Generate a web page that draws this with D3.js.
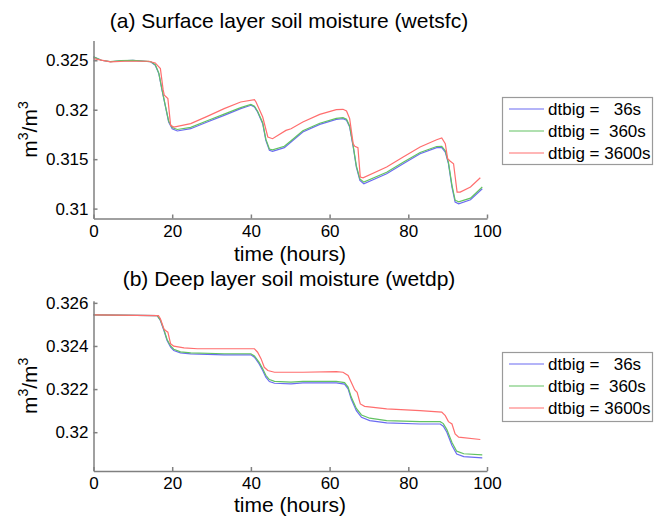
<!DOCTYPE html>
<html>
<head>
<meta charset="utf-8">
<script src="https://cdn.jsdelivr.net/npm/d3@7"></script>
<style>
  body { margin: 0; background: #fff; }
  text { font-family: "Liberation Sans", Arial, sans-serif; fill: #000; }
</style>
</head>
<body>
<div class="chart"></div>
<script>
// ---- data ----
var seriesNames = ["dtbig =   36s", "dtbig =  360s", "dtbig = 3600s"];
var seriesColors = ["#6b6bf2", "#62c262", "#ff6e6e"];

// (a) surface layer, wetsfc
var sfcHoursBG = [0, 2, 4.3, 7, 10, 14.5, 15.7, 16.6, 17.4, 18.3, 19.1, 20, 21.3, 24.7, 28.9, 33.2, 37.4, 40, 40.9, 41.7,
  43, 43.8, 44.7, 45.5, 48.5, 50.2, 53.2, 57.5, 61.7, 63.4, 64.3, 65.1, 66, 66.8, 67.7, 68.7, 74.5, 78.7, 83, 87.2,
  88.5, 89.4, 90.2, 91.1, 91.9, 92.8, 95.8, 98.8];
var sfcBlue = [0.32534, 0.3250, 0.32485, 0.32495, 0.3250, 0.32485, 0.3245, 0.32365, 0.3220, 0.32028, 0.31876, 0.31808,
  0.31785, 0.31808, 0.31876, 0.31943, 0.32011, 0.32045, 0.32028, 0.31977, 0.31859, 0.3169, 0.31589, 0.31579, 0.31616,
  0.31673, 0.31775, 0.31852, 0.31903, 0.3191, 0.31893, 0.31825, 0.31623, 0.3142, 0.31285, 0.31252, 0.31353, 0.31454,
  0.31555, 0.31616, 0.31616, 0.31572, 0.31454, 0.31218, 0.31066, 0.31049, 0.3109, 0.31201];
var sfcGreen = [0.32534, 0.3250, 0.32487, 0.32497, 0.3250, 0.32487, 0.32455, 0.3237, 0.32205, 0.32035, 0.31885, 0.3182,
  0.318, 0.31822, 0.31889, 0.31955, 0.32021, 0.32053, 0.32036, 0.31985, 0.31868, 0.31702, 0.31603, 0.31594, 0.3163,
  0.31686, 0.31787, 0.31863, 0.31913, 0.3192, 0.31903, 0.31835, 0.31635, 0.31433, 0.313, 0.31268, 0.31368, 0.31468,
  0.31568, 0.31628, 0.3163, 0.31586, 0.31468, 0.31235, 0.31085, 0.31068, 0.31106, 0.31218];
var sfcHoursR = [0, 4.3, 8, 14, 15.7, 17, 17.7, 18, 18.9, 19.6, 20.4, 24.7, 28.9, 33.2, 37.4, 40.9, 41.3, 43, 44.3, 45.5,
  48.9, 50.2, 53.2, 57.5, 61.7, 63.4, 64.3, 65.1, 66, 66.4, 67.2, 67.8, 68.5, 74.5, 78.7, 83, 87.2, 88.5, 89.4, 90,
  90.6, 91.5, 92.4, 93.2, 95.8, 98.3];
var sfcRed = [0.32517, 0.32483, 0.3249, 0.3249, 0.32473, 0.32416, 0.3220, 0.32146, 0.32112, 0.31842, 0.31825, 0.31859,
  0.31933, 0.32011, 0.32078, 0.32102, 0.32078, 0.31926, 0.31724, 0.31707, 0.31791, 0.31808, 0.31876, 0.31953, 0.32001,
  0.32004, 0.31987, 0.3191, 0.31656, 0.3163, 0.31616, 0.31319, 0.31312, 0.3142, 0.31522, 0.31623, 0.31697, 0.31714,
  0.31656, 0.31505, 0.31481, 0.31454, 0.31167, 0.31167, 0.31218, 0.31312];

// (b) deep layer, wetdp
var dpHoursBG = [0, 16.2, 17, 17.9, 18.7, 19.6, 20.4, 22.1, 24.7, 33.2, 40, 40.9, 42.1, 43, 43.8, 44.7, 46, 50.2, 53.2,
  61.7, 63.8, 64.7, 65.5, 66.8, 68.1, 70.2, 74.5, 83, 88.1, 88.9, 89.8, 91.1, 92.3, 94.1, 98.8];
var dpBlue = [0.32544, 0.32541, 0.32518, 0.32472, 0.32425, 0.32394, 0.32379, 0.32368, 0.32363, 0.32359, 0.32359, 0.32348,
  0.32317, 0.32286, 0.32255, 0.32235, 0.32227, 0.32224, 0.32229, 0.32229, 0.32223, 0.32201, 0.32154, 0.321, 0.32069,
  0.32054, 0.32043, 0.32038, 0.32038, 0.32028, 0.32, 0.31938, 0.31899, 0.31887, 0.31881];
var dpGreen = [0.32544, 0.32541, 0.3252, 0.32476, 0.3243, 0.324, 0.32385, 0.32373, 0.32368, 0.32364, 0.32364, 0.32354,
  0.32324, 0.32294, 0.32264, 0.32244, 0.32236, 0.32232, 0.32236, 0.32236, 0.3223, 0.32209, 0.32163, 0.3211, 0.3208,
  0.32065, 0.32054, 0.32049, 0.32049, 0.3204, 0.32012, 0.31952, 0.31912, 0.319, 0.31895];
var dpHoursR = [0, 16.5, 17, 17.9, 18.3, 18.9, 19.6, 20.4, 23, 26.4, 40.9, 41.7, 42.6, 43.4, 44.3, 46, 53.2, 61.7, 63.4,
  64.7, 65.5, 66.4, 67, 67.8, 68.9, 74.5, 83, 88.5, 89.4, 90.2, 91.1, 91.9, 92.8, 98.3];
var dpRed = [0.32544, 0.32541, 0.32526, 0.32479, 0.32472, 0.32464, 0.3241, 0.32399, 0.32391, 0.32387, 0.32387, 0.32371,
  0.3234, 0.32301, 0.32286, 0.32278, 0.32278, 0.32281, 0.32278, 0.32263, 0.32232, 0.32196, 0.32185, 0.32131, 0.3212,
  0.32108, 0.321, 0.32093, 0.32077, 0.32049, 0.32038, 0.31992, 0.31977, 0.31966];

var xTicks = [0, 20, 40, 60, 80, 100];
var sfcTicks = [0.31, 0.315, 0.32, 0.325];
var sfcTickLabels = ["0.31", "0.315", "0.32", "0.325"];
var dpTicks = [0.32, 0.322, 0.324, 0.326];
var dpTickLabels = ["0.32", "0.322", "0.324", "0.326"];

var svgWidth = 654;
var svgHeight = 518;

var svg = d3
  .select(".chart")
  .append("svg")
  .attr("width", svgWidth)
  .attr("height", svgHeight)
  .style("display", "block");

svg.append("rect").attr("width", svgWidth).attr("height", svgHeight).attr("fill", "#fff");

var panels = [
  {
    title: "(a) Surface layer soil moisture (wetsfc)",
    top: 40.5, bottom: 218.5, domain: [0.309, 0.327],
    ticks: sfcTicks, tickLabels: sfcTickLabels,
    lines: [[sfcHoursBG, sfcBlue], [sfcHoursBG, sfcGreen], [sfcHoursR, sfcRed]],
    titleY: 28, xLabelY: 261, legendTop: 97, legendHeight: 67
  },
  {
    title: "(b) Deep layer soil moisture (wetdp)",
    top: 300.7, bottom: 471, domain: [0.3182, 0.3261],
    ticks: dpTicks, tickLabels: dpTickLabels,
    lines: [[dpHoursBG, dpBlue], [dpHoursBG, dpGreen], [dpHoursR, dpRed]],
    titleY: 286, xLabelY: 512, legendTop: 352, legendHeight: 69
  }
];

var left = 93.5;
var right = 487;

panels.forEach(function(p) {
  var xScale = d3.scaleLinear().domain([0, 100]).range([left, right]);
  var yScale = d3.scaleLinear().domain(p.domain).range([p.bottom, p.top]);

  var g = svg.append("g");

  // lines, blue first so green and red sit on top
  var line = d3.line()
    .x(function(d) { return xScale(d[0]); })
    .y(function(d) { return yScale(d[1]); });

  p.lines.forEach(function(s, i) {
    var pts = s[0].map(function(h, j) { return [h, s[1][j]]; });
    g.append("path")
      .datum(pts)
      .attr("fill", "none")
      .attr("stroke", seriesColors[i])
      .attr("stroke-width", 1.2)
      .attr("d", line);
  });

  // axes, ticks pointing inwards like matlab
  var bottomAxis = d3.axisBottom(xScale)
    .tickValues(xTicks)
    .tickSizeInner(-4)
    .tickSizeOuter(0)
    .tickPadding(6);
  var leftAxis = d3.axisLeft(yScale)
    .tickValues(p.ticks)
    .tickFormat(function(d, i) { return p.tickLabels[i]; })
    .tickSizeInner(-4)
    .tickSizeOuter(0)
    .tickPadding(5);

  var xg = g.append("g")
    .attr("transform", "translate(0," + p.bottom + ")")
    .call(bottomAxis);
  var yg = g.append("g")
    .attr("transform", "translate(" + left + ",0)")
    .call(leftAxis);

  [xg, yg].forEach(function(a) {
    a.selectAll("path, line").attr("stroke", "#808080").attr("stroke-width", 1.5);
    a.selectAll("text")
      .attr("fill", "#000")
      .style("font-family", "'Liberation Sans', Arial, sans-serif")
      .style("font-size", "17px");
  });

  // title
  g.append("text")
    .attr("x", 289)
    .attr("y", p.titleY)
    .attr("text-anchor", "middle")
    .style("font-size", "21px")
    .text(p.title);

  // x label
  g.append("text")
    .attr("x", 290)
    .attr("y", p.xLabelY)
    .attr("text-anchor", "middle")
    .style("font-size", "21px")
    .text("time (hours)");

  // y label m^3/m^3
  var yl = g.append("text")
    .attr("transform", "translate(37," + (p.top + p.bottom) / 2 + ") rotate(-90)")
    .attr("text-anchor", "middle")
    .style("font-size", "21px");
  yl.append("tspan").text("m");
  yl.append("tspan").attr("dy", -9).style("font-size", "14px").text("3");
  yl.append("tspan").attr("dy", 9).text("/m");
  yl.append("tspan").attr("dy", -9).style("font-size", "14px").text("3");

  // legend
  var lg = g.append("g");
  lg.append("rect")
    .attr("x", 502.5)
    .attr("y", p.legendTop + 0.5)
    .attr("width", 150)
    .attr("height", p.legendHeight)
    .attr("fill", "#fff")
    .attr("stroke", "#9a9a9a")
    .attr("stroke-width", 1.2);

  seriesNames.forEach(function(name, i) {
    var cy = p.legendTop + 12 + i * 22;
    lg.append("line")
      .attr("x1", 509)
      .attr("x2", 544)
      .attr("y1", cy)
      .attr("y2", cy)
      .attr("stroke", seriesColors[i])
      .attr("stroke-width", 1.2);
    lg.append("text")
      .attr("x", 548)
      .attr("y", cy + 6)
      .style("font-size", "17px")
      .style("white-space", "pre")
      .text(name);
  });
});
</script>
</body>
</html>
